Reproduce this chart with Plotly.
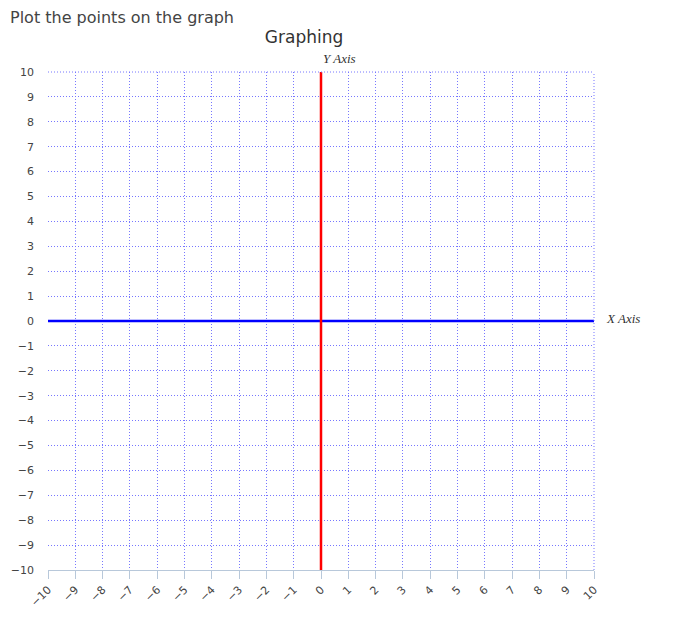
import plotly.graph_objects as go

# axis range and tick values
x_ticks = list(range(-10, 11))
y_ticks = list(range(-10, 11))
x_axis_line = [-10, 10]
y_axis_line = [-10, 10]

GRID = "#7777ff"
DOTS = "1px,2px"
TICK_FONT = dict(family="Verdana, DejaVu Sans, sans-serif", size=11, color="#444")

fig = go.Figure()

# horizontal x axis (blue) and vertical y axis (red)
fig.add_trace(go.Scatter(x=x_axis_line, y=[0, 0], mode="lines",
                         line=dict(color="#0000ff", width=2.5), hoverinfo="skip"))
fig.add_trace(go.Scatter(x=[0, 0], y=y_axis_line, mode="lines",
                         line=dict(color="#ff0000", width=2.5), hoverinfo="skip"))

fig.update_layout(
    width=676, height=612,
    margin=dict(l=40, r=90, t=64, b=50, autoexpand=False),
    paper_bgcolor="white", plot_bgcolor="white",
    showlegend=False,
    title=dict(text="Graphing", x=0.438, xanchor="center", y=0.952, yanchor="middle",
               font=dict(family="Verdana, DejaVu Sans, sans-serif", size=17, color="#333")),
    xaxis=dict(range=[-10, 10], tickvals=x_ticks, ticktext=[str(v).replace("-", "−") for v in x_ticks],
               tickangle=-45, tickfont=TICK_FONT, automargin=False,
               showgrid=True, gridcolor=GRID, griddash=DOTS, gridwidth=1,
               zeroline=False, showline=True, linecolor="#b8c8da", linewidth=1,
               ticks="outside", ticklen=8, tickcolor="#b8c8da", mirror=False, fixedrange=True),
    yaxis=dict(range=[-10, 10], tickvals=y_ticks, ticktext=[str(v).replace("-", "−") for v in y_ticks],
               tickfont=TICK_FONT, ticklabelstandoff=13, automargin=False,
               showgrid=True, gridcolor=GRID, griddash=DOTS, gridwidth=1,
               zeroline=False, showline=False, fixedrange=True),
    annotations=[
        dict(text="Plot the points on the graph", xref="paper", yref="paper",
             x=-40 / 546, y=1 + 54 / 498, xanchor="left", yanchor="middle", showarrow=False,
             font=dict(family="Verdana, DejaVu Sans, sans-serif", size=16, color="#444")),
        dict(text="<i>Y Axis</i>", xref="x", yref="paper", x=0, y=1, xanchor="left",
             yanchor="bottom", yshift=4, showarrow=False,
             font=dict(family="Liberation Serif, DejaVu Serif, serif", size=13, color="#333")),
        dict(text="<i>X Axis</i>", xref="paper", yref="y", x=1, y=0, xanchor="left",
             yanchor="middle", xshift=10, yshift=3, showarrow=False,
             font=dict(family="Liberation Serif, DejaVu Serif, serif", size=13, color="#333")),
    ],
)

# top and right border of the grid
fig.add_shape(type="line", xref="paper", yref="paper", x0=0, x1=1, y0=1, y1=1,
              line=dict(color=GRID, width=1, dash=DOTS))
fig.add_shape(type="line", xref="paper", yref="paper", x0=1, x1=1, y0=0, y1=1,
              line=dict(color=GRID, width=1, dash=DOTS))

fig.write_html("out.html")
